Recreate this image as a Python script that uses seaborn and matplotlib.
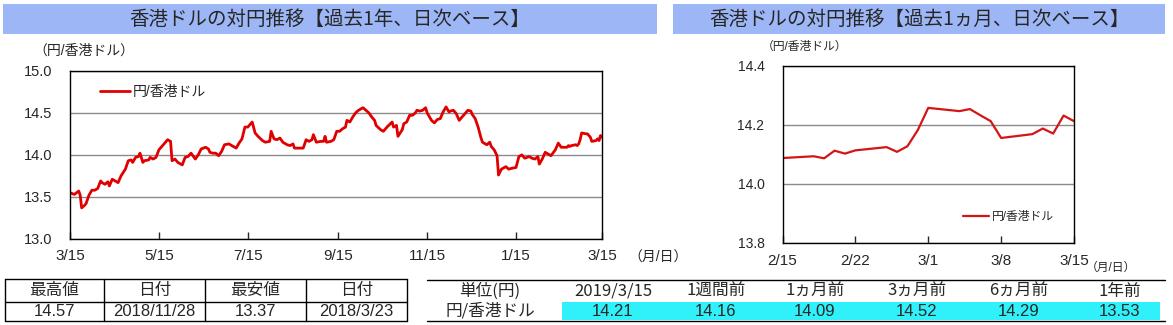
import numpy as np
import pandas as pd
import matplotlib
matplotlib.use("Agg")
import matplotlib.pyplot as plt
from matplotlib.patches import Rectangle
import seaborn as sns

# ---------------- data ----------------
series_name = "円/香港ドル"
title_year = "香港ドルの対円推移【過去1年、日次ベース】"
title_month = "香港ドルの対円推移【過去1ヵ月、日次ベース】"
y_unit = "（円/香港ドル）"
x_unit = "（月/日）"

year_start = "2018-03-15"
# days elapsed since 2018-03-15
year_days = [0, 3, 6, 7, 8, 10, 11, 13, 15, 17,
             19, 21, 22, 24, 26, 27, 29, 31, 33, 35,
             38, 40, 42, 43, 45, 47, 48, 50, 51, 54,
             55, 57, 59, 61, 63, 65, 67, 69, 70, 72,
             74, 77, 79, 81, 83, 86, 88, 90, 93, 95,
             96, 98, 100, 102, 104, 106, 109, 111, 114, 116,
             118, 120, 122, 123, 125, 127, 129, 132, 134, 137,
             138, 140, 142, 144, 146, 149, 151, 153, 154, 157,
             160, 162, 164, 166, 167, 169, 172, 174, 175, 176,
             179, 181, 183, 185, 187, 189, 190, 192, 194, 196,
             198, 201, 203, 205, 207, 209, 210, 213, 215, 216,
             218, 221, 222, 224, 225, 228, 229, 231, 233, 235,
             237, 238, 240, 242, 244, 245, 248, 250, 252, 254,
             256, 258, 260, 261, 263, 265, 267, 269, 271, 273,
             275, 276, 278, 280, 282, 283, 286, 288, 289, 291,
             293, 294, 296, 298, 299, 301, 303, 306, 308, 310,
             312, 315, 317, 319, 321, 322, 324, 326, 328, 330,
             333, 335, 337, 340, 341, 342, 343, 344, 347, 348,
             349, 350, 351, 354, 355, 356, 357, 358, 361, 362,
             363, 364, 365]
year_values = [13.55, 13.53, 13.57, 13.52, 13.37, 13.40, 13.42, 13.52, 13.58, 13.58,
               13.60, 13.69, 13.67, 13.65, 13.68, 13.63, 13.71, 13.69, 13.67, 13.75,
               13.83, 13.93, 13.94, 13.91, 13.97, 13.98, 14.02, 13.91, 13.93, 13.94,
               13.97, 13.95, 13.97, 14.06, 14.10, 14.14, 14.18, 14.16, 13.93, 13.95,
               13.91, 13.88, 13.97, 13.98, 14.02, 13.95, 14.00, 14.07, 14.09, 14.07,
               14.03, 14.02, 14.02, 13.99, 14.04, 14.12, 14.13, 14.11, 14.08, 14.14,
               14.19, 14.33, 14.33, 14.35, 14.39, 14.26, 14.22, 14.17, 14.15, 14.16,
               14.28, 14.19, 14.18, 14.20, 14.15, 14.12, 14.11, 14.13, 14.08, 14.08,
               14.08, 14.18, 14.16, 14.18, 14.24, 14.15, 14.16, 14.16, 14.22, 14.15,
               14.16, 14.18, 14.28, 14.28, 14.31, 14.33, 14.41, 14.39, 14.45, 14.50,
               14.53, 14.56, 14.53, 14.50, 14.45, 14.41, 14.35, 14.30, 14.28, 14.30,
               14.34, 14.39, 14.33, 14.35, 14.22, 14.30, 14.37, 14.39, 14.47, 14.47,
               14.50, 14.53, 14.52, 14.53, 14.56, 14.50, 14.41, 14.38, 14.42, 14.43,
               14.51, 14.57, 14.51, 14.52, 14.53, 14.49, 14.41, 14.45, 14.49, 14.53,
               14.52, 14.48, 14.43, 14.33, 14.20, 14.15, 14.12, 14.15, 14.10, 14.06,
               13.99, 13.76, 13.83, 13.85, 13.86, 13.83, 13.84, 13.85, 13.98, 14.00,
               13.96, 13.98, 13.96, 13.95, 13.98, 13.89, 13.95, 14.03, 14.01, 13.99,
               14.06, 14.14, 14.09, 14.09, 14.09, 14.11, 14.10, 14.11, 14.12, 14.11,
               14.13, 14.18, 14.26, 14.25, 14.25, 14.23, 14.21, 14.16, 14.17, 14.19,
               14.17, 14.23, 14.21]
year_ticks = ["2018-03-15", "2018-05-15", "2018-07-15", "2018-09-15",
              "2018-11-15", "2019-01-15", "2019-03-15"]
year_tick_labels = ["3/15", "5/15", "7/15", "9/15", "11/15", "1/15", "3/15"]
year_yticks = [13.0, 13.5, 14.0, 14.5, 15.0]

month_dates = ["2019-02-15", "2019-02-18", "2019-02-19", "2019-02-20", "2019-02-21",
               "2019-02-22", "2019-02-25", "2019-02-26", "2019-02-27", "2019-02-28",
               "2019-03-01", "2019-03-04", "2019-03-05", "2019-03-06", "2019-03-07",
               "2019-03-08", "2019-03-11", "2019-03-12", "2019-03-13", "2019-03-14",
               "2019-03-15"]
month_values = [14.087, 14.093, 14.086, 14.112, 14.102,
                14.113, 14.124, 14.108, 14.127, 14.182,
                14.257, 14.246, 14.253, 14.232, 14.212,
                14.155, 14.168, 14.187, 14.170, 14.231,
                14.212]
month_ticks = ["2019-02-15", "2019-02-22", "2019-03-01", "2019-03-08", "2019-03-15"]
month_tick_labels = ["2/15", "2/22", "3/1", "3/8", "3/15"]
month_yticks = [13.8, 14.0, 14.2, 14.4]

stats_headers = ["最高値", "日付", "最安値", "日付"]
stats_values = ["14.57", "2018/11/28", "13.37", "2018/3/23"]

cmp_headers = ["単位(円)", "2019/3/15", "1週間前", "1ヵ月前", "3ヵ月前", "6ヵ月前", "1年前"]
cmp_row_label = "円/香港ドル"
cmp_values = [14.21, 14.16, 14.09, 14.52, 14.29, 13.53]

# ---------------- style ----------------
sns.set_style("white")
plt.rcParams['font.family'] = ['Liberation Sans', 'Noto Sans CJK JP', 'DejaVu Sans']
CJK = ['Noto Sans CJK JP', 'DejaVu Sans']
RED = '#E00000'
GRID = '#8a8a8a'

W, H = 1173, 325
fig = plt.figure(figsize=(W / 100, H / 100), dpi=100)


def px_axes(l, t, r, b):
    return fig.add_axes([l / W, 1 - b / H, (r - l) / W, (b - t) / H])


bg = px_axes(0, 0, W, H)
bg.set_xlim(0, W)
bg.set_ylim(H, 0)
bg.axis('off')

# title bars
bar_color = '#9DB7F6'
bg.add_patch(Rectangle((3, 4), 654, 30, color=bar_color, lw=0))
bg.add_patch(Rectangle((673, 4), 492, 30, color=bar_color, lw=0))
bg.text(330, 19, title_year, ha='center', va='center', fontsize=14, family=CJK)
bg.text(919, 19, title_month, ha='center', va='center', fontsize=14, family=CJK)

# ---------------- year chart ----------------
df_year = pd.DataFrame({
    'date': pd.Timestamp(year_start) + pd.to_timedelta(year_days, unit='D'),
    'value': year_values,
})
ax1 = px_axes(70, 70.7, 602, 239)
sns.lineplot(data=df_year, x='date', y='value', ax=ax1, color=RED, lw=2.0,
             label=series_name)
ax1.set_xlim(pd.Timestamp(year_ticks[0]), pd.Timestamp(year_ticks[-1]))
ax1.set_ylim(year_yticks[0], year_yticks[-1])
ax1.set_yticks(year_yticks)
ax1.set_yticklabels([f"{v:.1f}" for v in year_yticks])
ax1.set_xticks(pd.to_datetime(year_ticks))
ax1.set_xticklabels(year_tick_labels)
ax1.grid(axis='y', color=GRID, lw=1.0)
ax1.grid(axis='x', visible=False)
ax1.tick_params(axis='x', direction='in', length=5, width=1, pad=7, labelsize=11,
                bottom=True)
ax1.tick_params(axis='y', length=0, pad=13, labelsize=10.5)
ax1.set_xlabel('')
ax1.set_ylabel('')
for s in ax1.spines.values():
    s.set_color('black')
    s.set_linewidth(1.0)
ax1.legend(loc='center left', bbox_to_anchor=(0.056, 0.873), frameon=False,
           handlelength=2.2, handletextpad=0.2, borderpad=0, borderaxespad=0,
           fontsize=10)
bg.text(33, 51, y_unit, ha='left', va='center', fontsize=10)
bg.text(628, 258, x_unit, ha='left', va='center', fontsize=10)

# ---------------- month chart ----------------
df_month = pd.DataFrame({'date': pd.to_datetime(month_dates), 'value': month_values})
ax2 = px_axes(782.5, 65.7, 1074, 242.7)
sns.lineplot(data=df_month, x='date', y='value', ax=ax2, color='#D41515', lw=1.6,
             label=series_name)
ax2.set_xlim(pd.Timestamp(month_ticks[0]), pd.Timestamp(month_ticks[-1]))
ax2.set_ylim(month_yticks[0], month_yticks[-1])
ax2.set_yticks(month_yticks)
ax2.set_yticklabels([f"{v:.1f}" for v in month_yticks])
ax2.set_xticks(pd.to_datetime(month_ticks))
ax2.set_xticklabels(month_tick_labels)
ax2.grid(axis='y', color=GRID, lw=1.0)
ax2.grid(axis='x', visible=False)
ax2.tick_params(axis='x', direction='in', length=5, width=1, pad=8, labelsize=11,
                bottom=True)
ax2.tick_params(axis='y', length=0, pad=13, labelsize=10)
ax2.set_xlabel('')
ax2.set_ylabel('')
for s in ax2.spines.values():
    s.set_color('black')
    s.set_linewidth(1.0)
ax2.legend(loc='center left', bbox_to_anchor=(0.62, 0.145), frameon=False,
           handlelength=2.2, handletextpad=0.2, borderpad=0, borderaxespad=0,
           fontsize=8.5)
bg.text(762, 47, y_unit, ha='left', va='center', fontsize=8.5)
bg.text(1086, 268, x_unit, ha='left', va='center', fontsize=8.5)

# ---------------- left table ----------------
lt_x = [5, 104, 205, 306, 407]
lt_y = [279, 302, 321]
for y in lt_y:
    bg.plot([lt_x[0], lt_x[-1]], [y, y], color='black', lw=1.0)
for x in lt_x:
    bg.plot([x, x], [lt_y[0], lt_y[-1]], color='black', lw=1.0)
for i, (h, v) in enumerate(zip(stats_headers, stats_values)):
    cx = (lt_x[i] + lt_x[i + 1]) / 2
    bg.text(cx, 290.5, h, ha='center', va='center', fontsize=12, family=CJK)
    bg.text(cx, 311.5, v, ha='center', va='center', fontsize=12)

# ---------------- right table ----------------
rt_cx = [490, 613, 716, 815, 917, 1019, 1120]
bg.add_patch(Rectangle((562, 302), 598, 18, color='#30F0FA', lw=0))
bg.plot([427, 1165], [280, 280], color='black', lw=1.0)
bg.plot([427, 1165], [321, 321], color='black', lw=1.0)
for cx, h in zip(rt_cx, cmp_headers):
    bg.text(cx, 291, h, ha='center', va='center', fontsize=12, family=CJK)
bg.text(rt_cx[0], 311.5, cmp_row_label, ha='center', va='center', fontsize=12,
        family=CJK)
for cx, v in zip(rt_cx[1:], cmp_values):
    bg.text(cx, 311.5, f"{v:.2f}", ha='center', va='center', fontsize=12)

fig.savefig("out.png", dpi=100)
